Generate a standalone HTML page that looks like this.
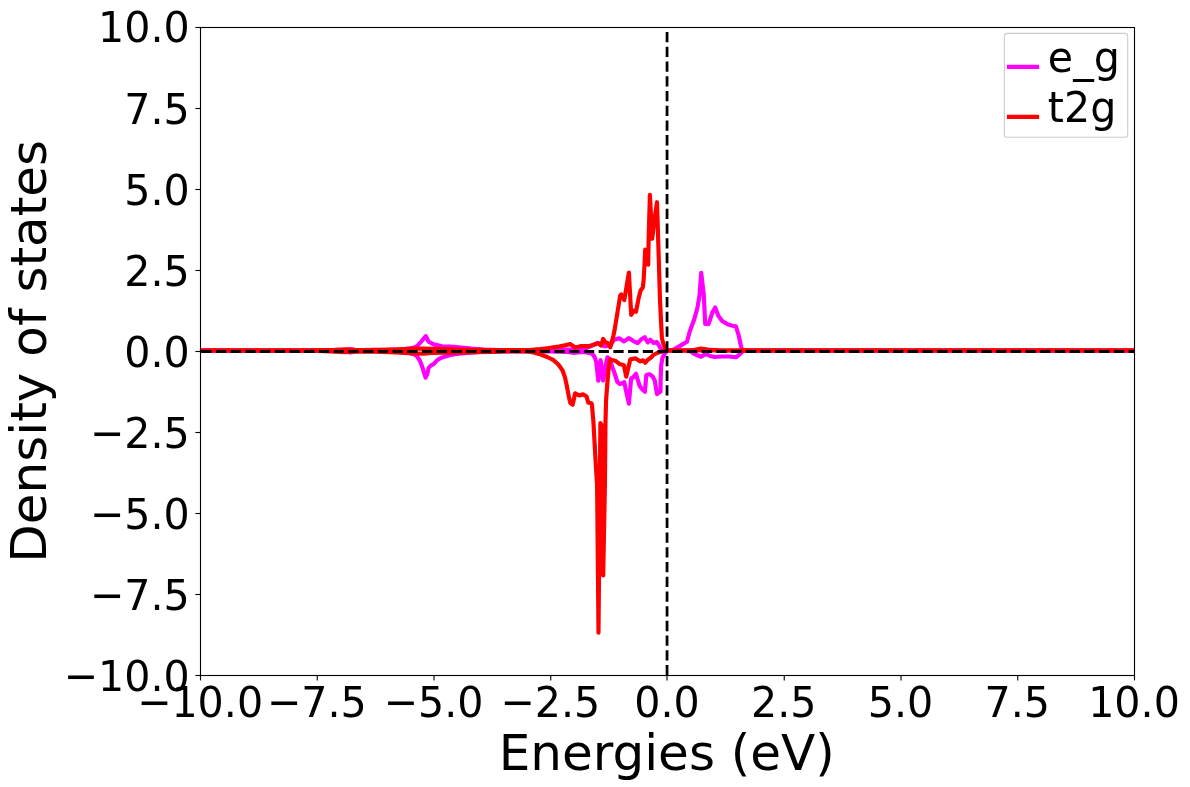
<!DOCTYPE html>
<html><head><meta charset="utf-8"><title>Density of states</title>
<style>
html,body{margin:0;padding:0;background:#fff;}
svg{display:block;}
text{font-family:"DejaVu Sans","Liberation Sans",sans-serif;fill:#000;}
.tk{font-size:41.67px;}
.lb{font-size:50.0px;}
.lg{font-size:41.67px;}
</style></head><body>
<svg width="1190" height="787" viewBox="0 0 1190 787">
<rect width="1190" height="787" fill="#fff"/>

<defs><clipPath id="c"><rect x="200.5" y="27.5" width="934" height="648"/></clipPath></defs>
<g clip-path="url(#c)" fill="none" stroke-linejoin="round" stroke-linecap="butt">
<polyline points="200.5,350.5 336.0,350.5 344.0,350.0 350.0,349.2 356.0,350.0 364.0,350.5 385.0,350.2 400.0,349.6 410.0,348.4 414.0,347.5 416.8,346.3 421.0,341.8 425.8,336.2 428.6,341.7 433.6,344.4 442.0,346.4 450.4,346.6 458.8,347.3 471.4,348.6 484.0,349.6 500.0,350.1 525.0,350.3 534.5,350.2 547.0,349.7 560.0,349.5 570.0,349.6 580.0,349.3 586.0,348.5 590.0,346.5 594.2,344.7 597.0,343.2 599.0,343.2 601.0,345.4 603.0,345.5 605.0,346.3 608.0,346.0 610.0,345.5 611.5,343.5 612.5,342.0 614.3,339.7 619.2,338.3 624.1,341.4 628.6,338.1 630.0,338.8 633.0,340.8 637.6,343.2 641.2,339.3 644.7,337.3 647.8,342.4 650.3,339.8 653.4,342.9 656.9,342.1 659.5,346.4 661.5,350.0 663.0,350.5 672.0,350.5 675.7,348.4 680.8,345.4 687.0,341.8 689.8,331.3 694.0,320.1 697.5,307.5 699.6,294.9 701.2,272.9 703.8,294.9 705.2,324.0 708.6,324.2 712.1,313.1 715.2,307.5 718.4,315.9 721.9,320.8 727.5,324.3 732.4,325.7 735.9,326.4 738.7,335.5 740.8,345.2 742.2,350.3 743.5,350.5 1134.5,350.5" stroke="#ff00ff" stroke-width="4.17"/>
<polyline points="200.5,350.5 336.0,350.5 344.0,351.1 350.0,352.4 356.0,351.1 364.0,350.7 385.0,351.3 400.0,351.8 410.0,353.2 414.0,354.3 416.8,356.1 419.7,360.3 422.3,367.1 425.6,377.6 427.3,373.8 428.6,367.9 431.1,365.4 433.6,364.1 437.0,360.3 442.0,357.4 450.4,354.9 458.8,353.6 480.0,352.0 500.0,351.3 551.0,351.3 565.0,351.8 573.0,352.8 580.0,352.2 585.0,352.2 591.4,353.2 593.7,355.5 595.2,358.5 596.2,362.0 597.3,371.6 598.3,380.7 600.6,360.2 603.1,380.4 605.5,366.0 607.4,357.4 609.5,358.5 611.7,365.3 614.3,372.5 617.4,382.0 619.7,383.9 622.4,383.2 624.3,382.2 625.8,389.7 628.9,403.6 630.6,384.3 631.2,378.2 632.7,377.8 636.0,373.8 638.4,382.0 639.6,385.9 642.6,389.7 644.9,391.8 646.3,375.2 647.6,374.6 649.9,374.3 652.5,376.3 654.8,380.5 656.0,388.1 657.0,394.2 660.5,391.6 660.6,380.5 661.2,365.3 662.5,357.6 665.1,353.0 667.5,350.8 669.0,350.5 688.0,350.5 691.0,351.5 694.0,353.8 701.0,356.7 705.9,353.9 710.0,356.0 714.9,357.0 721.9,356.5 728.9,356.5 735.9,357.3 739.4,354.6 742.2,351.7 744.0,350.5 1134.5,350.5" stroke="#ff00ff" stroke-width="4.17"/>
<polyline points="200.5,350.5 300.0,350.5 320.0,350.2 335.0,349.8 345.0,349.3 355.0,349.8 365.0,350.0 375.0,349.8 390.0,349.5 405.0,349.1 415.0,348.7 423.5,348.7 432.0,348.8 445.0,349.2 460.0,349.5 490.0,350.0 510.0,350.2 530.0,350.1 534.5,349.6 540.0,349.1 547.2,348.2 559.9,346.4 566.3,345.0 570.1,344.1 575.2,347.5 580.3,346.2 589.1,346.2 594.2,344.6 598.0,343.5 599.2,343.7 601.0,345.4 603.2,339.0 605.4,342.3 608.1,343.2 610.3,347.2 613.4,335.7 614.6,330.0 617.7,311.0 620.2,295.7 621.3,294.4 624.3,300.1 628.9,272.5 631.2,314.8 634.0,310.6 636.0,311.8 638.5,298.8 640.6,290.6 642.8,287.6 643.6,280.5 644.5,265.2 645.2,249.7 648.2,264.7 648.6,241.0 649.9,194.8 652.2,238.7 654.4,220.0 657.0,202.2 658.5,250.0 660.0,300.0 661.1,322.8 661.9,338.0 663.6,344.5 665.1,348.0 666.5,350.2 668.0,350.5 688.0,350.5 695.0,349.7 701.0,348.5 708.0,349.6 722.0,350.5 1134.5,350.5" stroke="#ff0000" stroke-width="4.17"/>
<polyline points="200.5,350.5 300.0,350.7 320.0,351.0 335.0,351.6 345.0,352.2 355.0,351.6 365.0,351.3 375.0,351.7 390.0,352.1 405.0,352.8 415.0,353.4 423.5,353.6 432.0,353.0 445.0,352.6 460.0,352.5 490.0,351.9 510.0,351.1 528.1,351.4 534.5,352.8 540.8,354.5 547.2,357.0 553.6,360.2 558.6,364.7 562.5,370.4 565.0,377.4 566.9,386.3 568.8,396.4 570.3,402.8 572.6,404.7 573.9,399.0 575.2,393.3 579.4,395.5 583.0,394.3 586.6,396.6 588.3,402.8 591.5,403.2 592.0,405.4 593.4,421.6 594.6,443.2 595.8,464.7 597.1,485.0 597.8,560.0 598.5,632.7 600.4,423.2 601.4,424.6 603.2,575.4 604.9,485.0 605.5,421.6 606.1,400.0 607.2,385.0 608.5,370.0 609.8,359.5 615.2,360.7 619.7,364.1 623.9,365.3 626.2,376.7 628.9,365.3 630.4,359.2 635.7,358.4 640.3,361.4 643.0,360.3 645.3,362.8 647.6,359.9 651.0,357.6 653.3,355.0 657.1,353.0 660.9,351.7 665.0,350.5 1134.5,350.5" stroke="#ff0000" stroke-width="4.17"/>
<line x1="201.2" y1="351.5" x2="1134.5" y2="351.5" stroke="#000" stroke-width="2.78" stroke-dasharray="10.28 4.44"/>
<line x1="667.05" y1="675.3" x2="667.05" y2="27.5" stroke="#000" stroke-width="2.78" stroke-dasharray="10.28 4.44"/>
</g>
<g stroke="#000" stroke-width="1.11">
<line x1="200.50" y1="675.5" x2="200.50" y2="680.4"/>
<line x1="200.5" y1="675.50" x2="195.4" y2="675.50"/>
<line x1="317.25" y1="675.5" x2="317.25" y2="680.4"/>
<line x1="200.5" y1="594.50" x2="195.4" y2="594.50"/>
<line x1="434.00" y1="675.5" x2="434.00" y2="680.4"/>
<line x1="200.5" y1="513.50" x2="195.4" y2="513.50"/>
<line x1="550.75" y1="675.5" x2="550.75" y2="680.4"/>
<line x1="200.5" y1="432.50" x2="195.4" y2="432.50"/>
<line x1="667.00" y1="675.5" x2="667.00" y2="680.4"/>
<line x1="200.5" y1="351.50" x2="195.4" y2="351.50"/>
<line x1="784.25" y1="675.5" x2="784.25" y2="680.4"/>
<line x1="200.5" y1="270.50" x2="195.4" y2="270.50"/>
<line x1="901.00" y1="675.5" x2="901.00" y2="680.4"/>
<line x1="200.5" y1="189.50" x2="195.4" y2="189.50"/>
<line x1="1017.75" y1="675.5" x2="1017.75" y2="680.4"/>
<line x1="200.5" y1="108.50" x2="195.4" y2="108.50"/>
<line x1="1134.50" y1="675.5" x2="1134.50" y2="680.4"/>
<line x1="200.5" y1="27.50" x2="195.4" y2="27.50"/>
</g>
<rect x="200.5" y="27.5" width="934" height="648" fill="none" stroke="#000" stroke-width="1.11"/>
<text class="tk" transform="translate(200.00,717.4) scale(0.988,1.035)" text-anchor="middle">−10.0</text>
<text class="tk" transform="translate(189.7,691.40) scale(0.988,1.035)" text-anchor="end">−10.0</text>
<text class="tk" transform="translate(316.75,717.4) scale(0.988,1.035)" text-anchor="middle">−7.5</text>
<text class="tk" transform="translate(189.7,610.40) scale(0.988,1.035)" text-anchor="end">−7.5</text>
<text class="tk" transform="translate(433.50,717.4) scale(0.988,1.035)" text-anchor="middle">−5.0</text>
<text class="tk" transform="translate(189.7,529.40) scale(0.988,1.035)" text-anchor="end">−5.0</text>
<text class="tk" transform="translate(550.25,717.4) scale(0.988,1.035)" text-anchor="middle">−2.5</text>
<text class="tk" transform="translate(189.7,448.40) scale(0.988,1.035)" text-anchor="end">−2.5</text>
<text class="tk" transform="translate(667.00,717.4) scale(0.988,1.035)" text-anchor="middle">0.0</text>
<text class="tk" transform="translate(189.7,367.40) scale(0.988,1.035)" text-anchor="end">0.0</text>
<text class="tk" transform="translate(783.75,717.4) scale(0.988,1.035)" text-anchor="middle">2.5</text>
<text class="tk" transform="translate(189.7,286.40) scale(0.988,1.035)" text-anchor="end">2.5</text>
<text class="tk" transform="translate(900.50,717.4) scale(0.988,1.035)" text-anchor="middle">5.0</text>
<text class="tk" transform="translate(189.7,205.40) scale(0.988,1.035)" text-anchor="end">5.0</text>
<text class="tk" transform="translate(1017.25,717.4) scale(0.988,1.035)" text-anchor="middle">7.5</text>
<text class="tk" transform="translate(189.7,124.40) scale(0.988,1.035)" text-anchor="end">7.5</text>
<text class="tk" transform="translate(1134.00,717.4) scale(0.988,1.035)" text-anchor="middle">10.0</text>
<text class="tk" transform="translate(189.7,42.30) scale(0.988,1.035)" text-anchor="end">10.0</text>
<text class="lb" x="666.8" y="770.2" text-anchor="middle">Energies (eV)</text>
<text class="lb" transform="translate(45.9,351.3) rotate(-90)" text-anchor="middle">Density of states</text>
<rect x="1004.4" y="33.4" width="123.3" height="103.9" rx="2.8" fill="#fff" fill-opacity="0.8" stroke="#cccccc" stroke-width="1.11"/>
<line x1="1006.9" y1="66.9" x2="1039.1" y2="66.9" stroke="#ff00ff" stroke-width="4.17"/>
<line x1="1006.9" y1="116.9" x2="1039.1" y2="116.9" stroke="#ff0000" stroke-width="4.17"/>
<text class="lg" transform="translate(1047.8,71.5) scale(0.988,1.035)">e_g</text>
<text class="lg" transform="translate(1047.8,121.5) scale(0.988,1.035)">t2g</text>
</svg></body></html>
